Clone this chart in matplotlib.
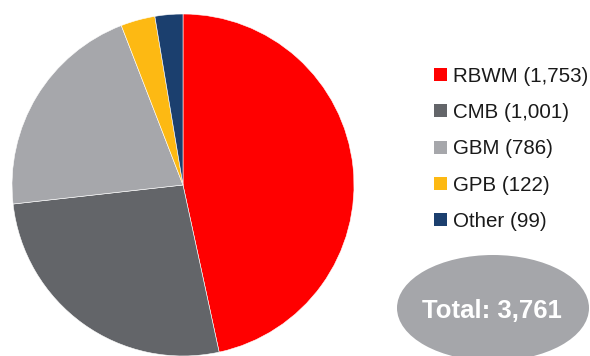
import matplotlib

matplotlib.use("Agg")
import matplotlib.pyplot as plt
from matplotlib.patches import Ellipse, Rectangle

segments = ["RBWM", "CMB", "GBM", "GPB", "Other"]
values = [1753, 1001, 786, 122, 99]
colors = ["#ff0000", "#636569", "#a6a7ab", "#fdb913", "#1b3f6e"]
total = sum(values)

plt.rcParams["font.family"] = ["Liberation Sans", "DejaVu Sans"]

W, H = 590, 356
fig = plt.figure(figsize=(W / 100, H / 100), dpi=100)
ax = fig.add_axes([0, 0, 1, 1])

# pie drawn in pixel space, top of the image is y = H
ax.pie(values, colors=colors, startangle=90, counterclock=False,
       center=(183, H - 185), radius=171, frame=True,
       wedgeprops=dict(linewidth=0.4, edgecolor="white"))
ax.set_xlim(0, W)
ax.set_ylim(0, H)
ax.set_aspect("equal")
ax.axis("off")

# legend
row_y = [74.5 + 36.25 * i for i in range(len(segments))]
for name, val, col, y in zip(segments, values, colors, row_y):
    ax.add_patch(Rectangle((434, H - y - 6.5), 13, 13, facecolor=col, edgecolor="none"))
    ax.text(453, H - y, f"{name} ({val:,})", fontsize=14.8, color="#1a1a1a",
            ha="left", va="center_baseline")

# total badge
ax.add_patch(Ellipse((493, H - 308), 192, 106, facecolor="#a5a6aa", edgecolor="none"))
ax.text(492, H - 309, f"Total: {total:,}", fontsize=18.5, fontweight="bold",
        color="white", ha="center", va="center_baseline")

fig.savefig("out.png", dpi=100)
